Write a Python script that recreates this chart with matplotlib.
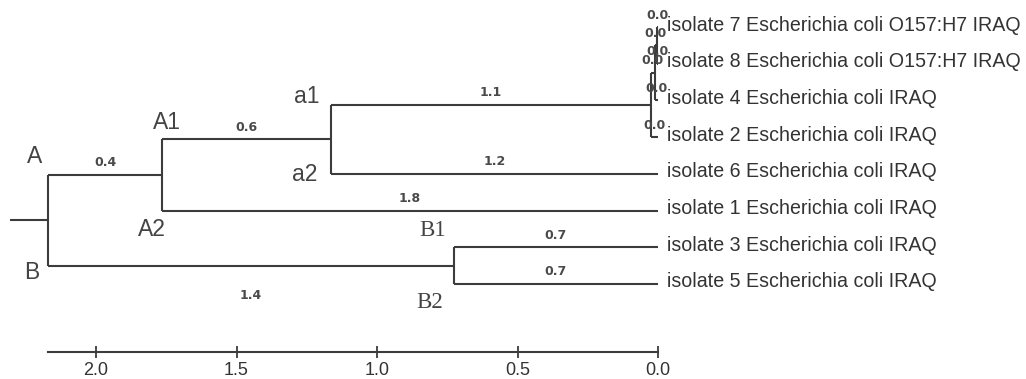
import matplotlib
matplotlib.use('agg')
import matplotlib.pyplot as plt

# 叶子（从上到下）
leaf_keys = ["7", "8", "4", "2", "6", "1", "3", "5"]
leaf_labels = [
    "isolate 7 Escherichia coli O157:H7 IRAQ",
    "isolate 8 Escherichia coli O157:H7 IRAQ",
    "isolate 4 Escherichia coli IRAQ",
    "isolate 2 Escherichia coli IRAQ",
    "isolate 6 Escherichia coli IRAQ",
    "isolate 1 Escherichia coli IRAQ",
    "isolate 3 Escherichia coli IRAQ",
    "isolate 5 Escherichia coli IRAQ",
]

# 内部节点：高度（距离）和子节点
node_heights = {"root": 2.17, "A": 1.765, "a": 1.164, "n1": 0.025,
                "n2": 0.012, "n3": 0.004, "B": 0.726}
node_children = {"root": ["A", "B"], "A": ["a", "1"], "a": ["n1", "6"],
                 "n1": ["n2", "2"], "n2": ["n3", "4"], "n3": ["7", "8"],
                 "B": ["3", "5"]}

scale_ticks = [0.0, 0.5, 1.0, 1.5, 2.0]

LINE = '#3c3c3c'
TXT = '#333333'

fig = plt.figure(figsize=(10.26, 3.79), dpi=100)
ax = fig.add_axes([0, 0, 1, 1])
ax.set_xlim(658 / 281, -(1026 - 658) / 281)
ax.set_ylim((379 - 27) / 36.7, -27 / 36.7)

ypos = {k: i for i, k in enumerate(leaf_keys)}
xpos = {k: 0.0 for k in leaf_keys}


def place(node):
    if node in ypos:
        return ypos[node]
    ys = [place(c) for c in node_children[node]]
    ypos[node] = sum(ys) / len(ys)
    xpos[node] = node_heights[node]
    return ypos[node]


place("root")

for node, kids in node_children.items():
    x = xpos[node]
    ky = [ypos[c] for c in kids]
    ax.plot([x, x], [min(ky), max(ky)], color=LINE, lw=1.5, solid_capstyle='butt')
    for c in kids:
        ax.plot([x, xpos[c]], [ypos[c], ypos[c]], color=LINE, lw=1.5, solid_capstyle='butt')
        length = x - xpos[c]
        below = (node == "root" and c == "B")
        ax.annotate(f"{length:.1f}", ((x + xpos[c]) / 2, ypos[c]),
                    xytext=(0, -30 if below else 12), textcoords='offset pixels',
                    ha='center', va='center', fontsize=9, fontweight='bold',
                    color='#4a4a4a', family='DejaVu Sans')

# 根部短线
ax.plot([xpos["root"], xpos["root"] + 0.136], [ypos["root"]] * 2,
        color=LINE, lw=1.5, solid_capstyle='butt')

for k, lab in zip(leaf_keys, leaf_labels):
    ax.annotate(lab, (0, ypos[k]), xytext=(9, 2), textcoords='offset pixels',
                ha='left', va='center', fontsize=14.1, color=TXT,
                family='Liberation Sans')

# 分支名称
clade_names = [("A", "root", "A", (-14, 18), 'Liberation Sans'),
               ("B", "root", "B", (-16, -7), 'Liberation Sans'),
               ("A1", "A", "a", (5, 17), 'Liberation Sans'),
               ("A2", "A", "1", (-10, -19), 'Liberation Sans'),
               ("a1", "a", "n1", (-24, 8), 'Liberation Sans'),
               ("a2", "a", "6", (-26, -1), 'Liberation Sans'),
               ("B1", "B", "3", (-21, 17), 'Liberation Serif'),
               ("B2", "B", "5", (-24, -19), 'Liberation Serif')]
for text, nx, ny, off, fam in clade_names:
    ax.annotate(text, (xpos[nx], ypos[ny]), xytext=off, textcoords='offset pixels',
                ha='center', va='center', fontsize=16.5, color='#444444', family=fam)

# 标尺
for s in ['top', 'left', 'right']:
    ax.spines[s].set_visible(False)
ax.spines['bottom'].set_position(('data', (352 - 27) / 36.7))
ax.spines['bottom'].set_bounds(0, xpos["root"])
ax.spines['bottom'].set_linewidth(1.5)
ax.spines['bottom'].set_color(LINE)
ax.set_yticks([])
ax.set_xticks(scale_ticks)
ax.set_xticklabels([f"{t:.1f}" for t in scale_ticks], fontsize=13, color=TXT,
                   family='Liberation Sans')
ax.tick_params(axis='x', direction='inout', length=8, width=1.3, color=LINE, pad=3)

fig.savefig("out.png", dpi=100)
